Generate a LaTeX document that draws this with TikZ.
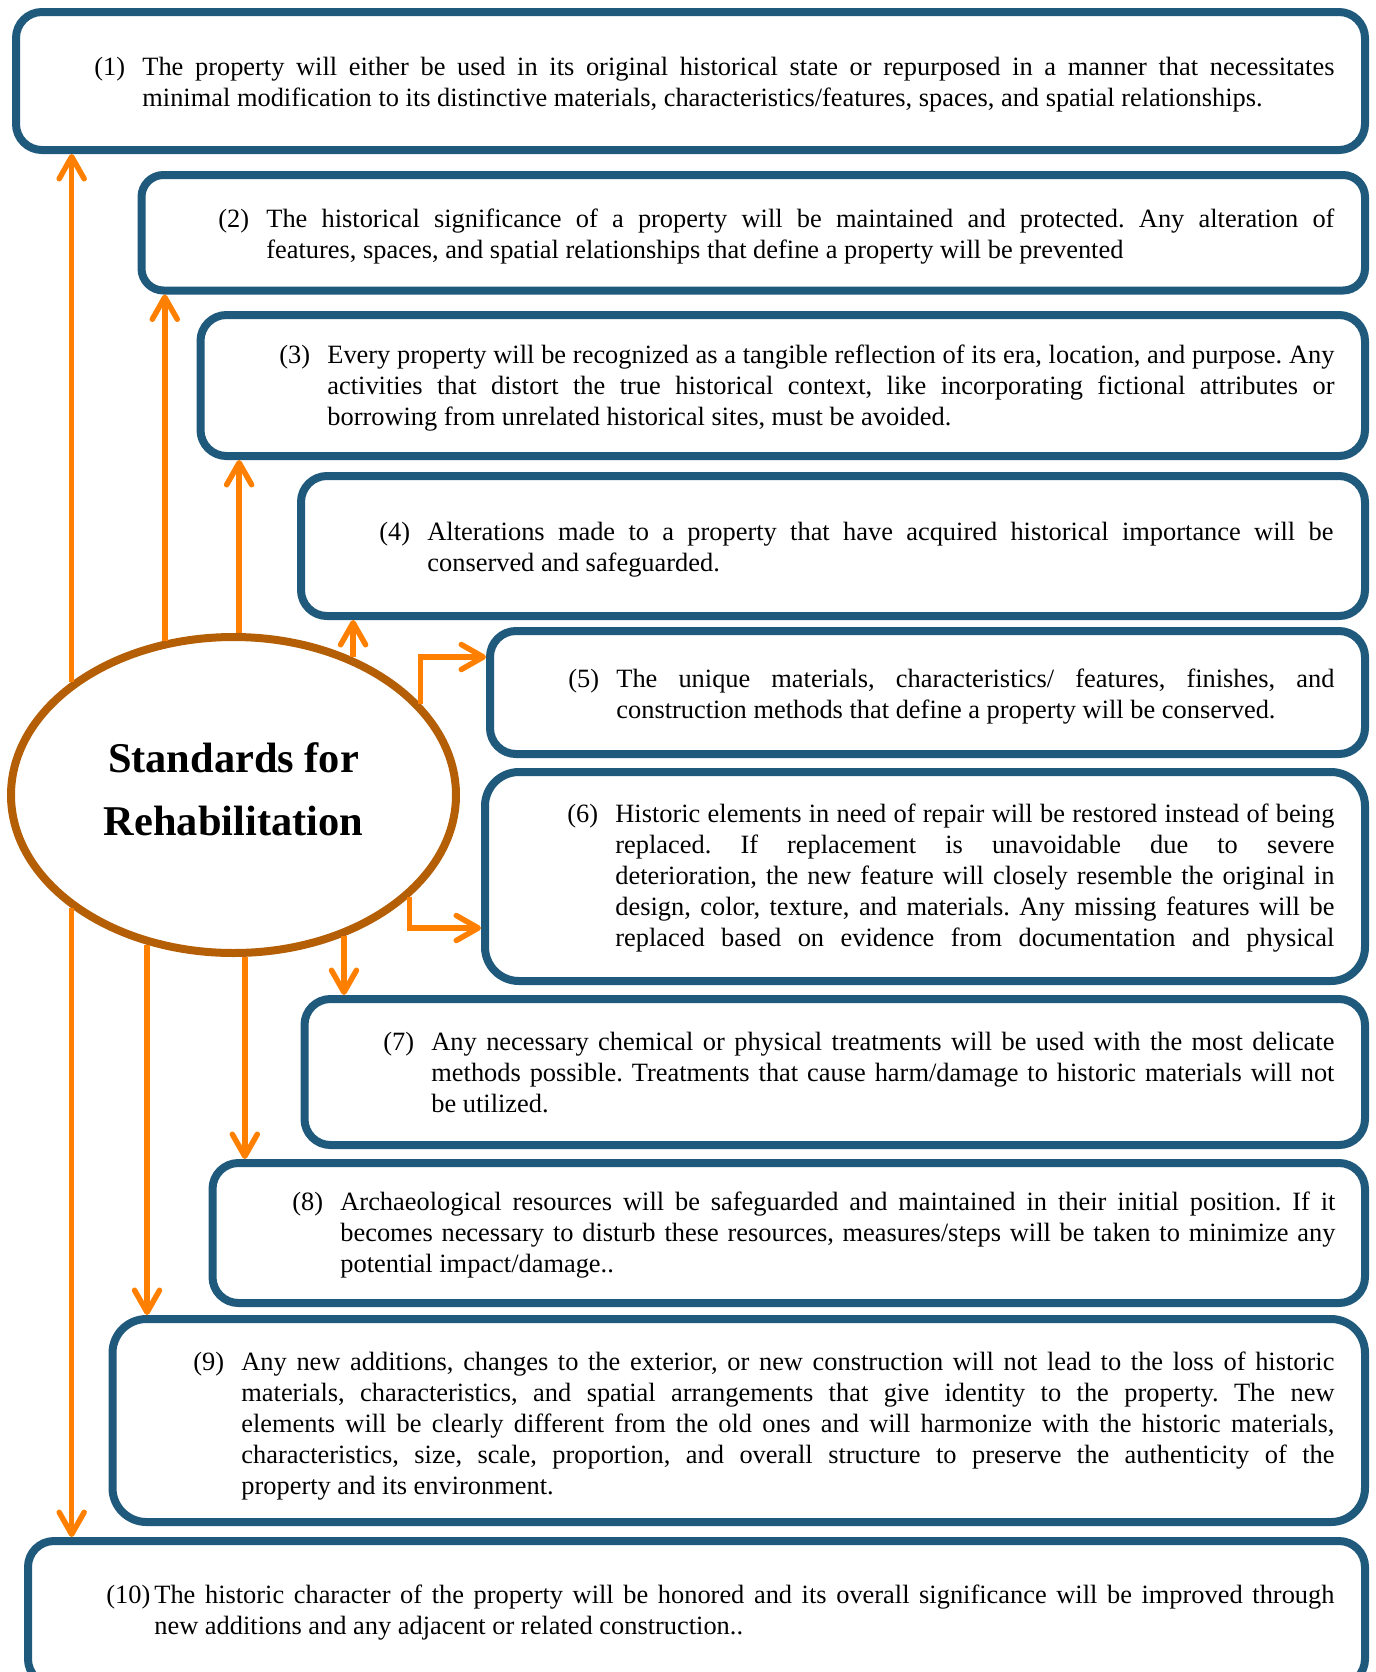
\documentclass[tikz,border=0pt]{standalone}
\usepackage{fontspec}
\setmainfont{Liberation Serif}
\usetikzlibrary{shapes,arrows.meta,fit}

\definecolor{boxblue}{RGB}{31,89,124}
\definecolor{arrorange}{RGB}{255,128,0}
\definecolor{ringbrown}{RGB}{180,95,6}

% numbered paragraph: label, width of the text, text
\newcommand\stdtext[3]{\makebox[24pt][l]{(#1)}\parbox[t]{#2}{\frenchspacing\tolerance=10000\hyphenpenalty=10000 #3}}

\tikzset{
  stdbox/.style={draw=boxblue, line width=4pt, rounded corners=13pt, inner sep=0pt},
  stdtxt/.style={anchor=base west, inner sep=0pt, font=\fontsize{13.2pt}{15.6pt}\selectfont},
  ring/.style={ellipse, draw=ringbrown, line width=4pt, minimum width=222.5pt, minimum height=158pt,
    inner sep=0pt, align=center, text depth=6pt, font=\fontsize{21.2pt}{31.5pt}\selectfont\bfseries},
  arr/.style={draw=arrorange, line width=2.75pt, -{Straight Barb[length=11pt,width=12.5pt,round]}}
}

\begin{document}
\begin{tikzpicture}[x=0.5pt,y=-0.5pt]
\useasboundingbox (0,0) rectangle (1376,1672);
\clip (0,0) rectangle (1376,1672);

% to draw the boxes
\node [stdbox, fit={(16,12) (1365,150)}] (b1) {};
\node [stdbox, rounded corners=11pt, fit={(141.5,175) (1365,290.5)}] (b2) {};
\node [stdbox, fit={(200.5,315) (1365,456)}] (b3) {};
\node [stdbox, fit={(301,476) (1365,616)}] (b4) {};
\node [stdbox, fit={(490,631) (1365,754)}] (b5) {};
\node [stdbox, rounded corners=17pt, fit={(485,772) (1365,981)}] (b6) {};
\node [stdbox, fit={(304.5,999) (1365,1145)}] (b7) {};
\node [stdbox, fit={(212.5,1163) (1365,1303)}] (b8) {};
\node [stdbox, rounded corners=17pt, fit={(112.5,1319) (1365,1522)}] (b9) {};
\node [stdbox, fit={(28,1541) (1365,1685)}] (b10) {};

% to write the standards
\node [stdtxt] (t1) at (94,75) {\stdtext{1}{596pt}{The property will either be used in its original historical state or repurposed in a manner that necessitates\linebreak minimal modification to its distinctive materials, characteristics/features, spaces, and spatial relationships.}};
\node [stdtxt] (t2) at (218,227) {\stdtext{2}{534pt}{The historical significance of a property will be maintained and protected. Any alteration of\linebreak features, spaces, and spatial relationships that define a property will be prevented}};
\node [stdtxt] (t3) at (279,363) {\stdtext{3}{503.5pt}{Every property will be recognized as a tangible reflection of its era, location, and purpose. Any\linebreak activities that distort the true historical context, like incorporating fictional attributes or\linebreak borrowing from unrelated historical sites, must be avoided.}};
\node [stdtxt] (t4) at (379,540) {\stdtext{4}{453pt}{Alterations made to a property that have acquired historical importance will be\linebreak conserved and safeguarded.}};
\node [stdtxt] (t5) at (568,687) {\stdtext{5}{359pt}{The unique materials, characteristics/ features, finishes, and\linebreak construction methods that define a property will be conserved.}};
\node [stdtxt] (t6) at (567,822) {\stdtext{6}{359.5pt}{\parfillskip=0pt Historic elements in need of repair will be restored instead of being\linebreak replaced. If replacement is unavoidable due to severe\linebreak deterioration, the new feature will closely resemble the original in\linebreak design, color, texture, and materials. Any missing features will be\linebreak replaced based on evidence from documentation and physical}};
\node [stdtxt] (t7) at (383,1050) {\stdtext{7}{451.5pt}{Any necessary chemical or physical treatments will be used with the most delicate\linebreak methods possible. Treatments that cause harm/damage to historic materials will not\linebreak be utilized.}};
\node [stdtxt] (t8) at (292,1210) {\stdtext{8}{497.5pt}{Archaeological resources will be safeguarded and maintained in their initial position. If it\linebreak becomes necessary to disturb these resources, measures/steps will be taken to minimize any\linebreak potential impact/damage..}};
\node [stdtxt] (t9) at (193,1370) {\stdtext{9}{546.5pt}{Any new additions, changes to the exterior, or new construction will not lead to the loss of historic\linebreak materials, characteristics, and spatial arrangements that give identity to the property. The new\linebreak elements will be clearly different from the old ones and will harmonize with the historic materials,\linebreak characteristics, size, scale, proportion, and overall structure to preserve the authenticity of the\linebreak property and its environment.}};
\node [stdtxt] (t10) at (106,1603) {\stdtext{10}{590pt}{The historic character of the property will be honored and its overall significance will be improved through\linebreak new additions and any adjacent or related construction..}};

% the centre
\node [ring] (std) at (233.5,795) {Standards for\\Rehabilitation};

% arrows going up
\draw [arr] (std.145.4) -- (std.145.4 |- b1.south);
\draw [arr] (std.114.5) -- (std.114.5 |- b2.south);
\draw [arr] (std.88.7) -- (std.88.7 |- b3.south);
\draw [arr] (std.49.8) -- (std.49.8 |- b4.south);
\draw [arr] (std.26) |- ([yshift=-15pt]b5.north west);
% arrows going down
\draw [arr] (std.-30.05) |- ([yshift=28.5pt]b6.south west);
\draw [arr] (std.-52.8) -- (std.-52.8 |- b7.north);
\draw [arr] (std.-86.9) -- (std.-86.9 |- b8.north);
\draw [arr] (std.-120.4) -- (std.-120.4 |- b9.north);
\draw [arr] (std.-145.4) -- (std.-145.4 |- b10.north);
\end{tikzpicture}
\end{document}
